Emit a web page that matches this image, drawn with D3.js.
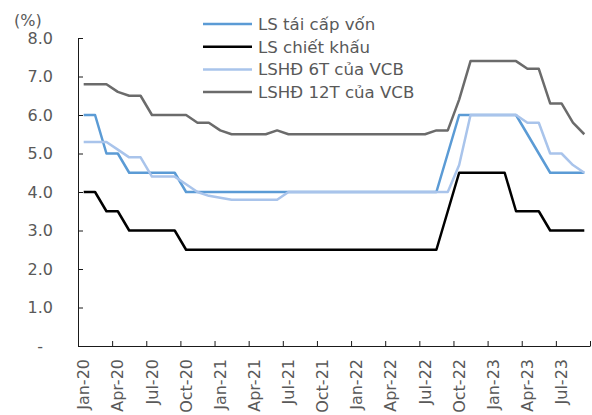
<!DOCTYPE html>
<html>
<head>
<meta charset="utf-8">
<script src="https://cdn.jsdelivr.net/npm/d3@7"></script>
<style>
  body { margin: 0; background: #fff; }
  svg { font-family: "DejaVu Sans", Verdana, sans-serif; }
</style>
</head>
<body>
<svg id="chart"></svg>
<script>
// Data (monthly, Jan-20 .. Sep-23)
const monthNames = ["Jan", "Feb", "Mar", "Apr", "May", "Jun", "Jul", "Aug", "Sep", "Oct", "Nov", "Dec"];
const months = [];
for (let y = 20; y <= 23; y++) {
    monthNames.forEach((m, i) => {
        if (y < 23 || i < 9) months.push(`${m}-${y}`);
    });
}
const tickLabels = months.filter((m, i) => i % 3 === 0);

const refinance = [6.0, 6.0, 5.0, 5.0, 4.5, 4.5, 4.5, 4.5, 4.5, 4.0, 4.0, 4.0,
                   4.0, 4.0, 4.0, 4.0, 4.0, 4.0, 4.0, 4.0, 4.0, 4.0, 4.0, 4.0,
                   4.0, 4.0, 4.0, 4.0, 4.0, 4.0, 4.0, 4.0, 5.0, 6.0, 6.0, 6.0,
                   6.0, 6.0, 6.0, 5.5, 5.0, 4.5, 4.5, 4.5, 4.5];
const discount  = [4.0, 4.0, 3.5, 3.5, 3.0, 3.0, 3.0, 3.0, 3.0, 2.5, 2.5, 2.5,
                   2.5, 2.5, 2.5, 2.5, 2.5, 2.5, 2.5, 2.5, 2.5, 2.5, 2.5, 2.5,
                   2.5, 2.5, 2.5, 2.5, 2.5, 2.5, 2.5, 2.5, 3.5, 4.5, 4.5, 4.5,
                   4.5, 4.5, 3.5, 3.5, 3.5, 3.0, 3.0, 3.0, 3.0];
const vcb6m     = [5.3, 5.3, 5.3, 5.1, 4.9, 4.9, 4.4, 4.4, 4.4, 4.2, 4.0, 3.9,
                   3.85, 3.8, 3.8, 3.8, 3.8, 3.8, 4.0, 4.0, 4.0, 4.0, 4.0, 4.0,
                   4.0, 4.0, 4.0, 4.0, 4.0, 4.0, 4.0, 4.0, 4.0, 4.7, 6.0, 6.0,
                   6.0, 6.0, 6.0, 5.8, 5.8, 5.0, 5.0, 4.7, 4.5];
const vcb12m    = [6.8, 6.8, 6.8, 6.6, 6.5, 6.5, 6.0, 6.0, 6.0, 6.0, 5.8, 5.8,
                   5.6, 5.5, 5.5, 5.5, 5.5, 5.6, 5.5, 5.5, 5.5, 5.5, 5.5, 5.5,
                   5.5, 5.5, 5.5, 5.5, 5.5, 5.5, 5.5, 5.6, 5.6, 6.4, 7.4, 7.4,
                   7.4, 7.4, 7.4, 7.2, 7.2, 6.3, 6.3, 5.8, 5.5];

const series = [
    { name: "LS tái cấp vốn",   values: refinance, color: "#5b9bd5" },
    { name: "LS chiết khấu",    values: discount,  color: "#000000" },
    { name: "LSHĐ 6T của VCB",  values: vcb6m,     color: "#a9c4eb" },
    { name: "LSHĐ 12T của VCB", values: vcb12m,    color: "#6b6b6b" }
];

// Layout
const W = 592, H = 415;
const plot = { left: 78, right: 590, top: 38, bottom: 346 };
const textColor = "#595959";

const svg = d3.select("#chart").attr("width", W).attr("height", H);

// Scales
const x = d3.scaleBand().domain(months).range([plot.left, plot.right]).padding(0);
const xc = m => x(m) + x.bandwidth() / 2;
const xIdx = d3.scaleLinear().domain([0, months.length]).range([plot.left, plot.right]);
const y = d3.scaleLinear().domain([0, 8]).range([plot.bottom, plot.top]);

// Y axis (ticks inside)
const yAxisG = svg.append("g")
    .attr("transform", `translate(${plot.left},0)`)
    .call(d3.axisLeft(y).ticks(8).tickSizeInner(-5).tickSizeOuter(0).tickPadding(25)
        .tickFormat(d => d === 0 ? "-" : d.toFixed(1)));
yAxisG.selectAll("text")
    .attr("fill", textColor).attr("font-size", "16px")
    .attr("font-family", "DejaVu Sans")
    .attr("dx", d => d === 0 ? -10 : 0);

// X axis tick marks at category boundaries
svg.append("g")
    .attr("transform", `translate(0,${plot.bottom})`)
    .call(d3.axisBottom(xIdx).tickValues(d3.range(0, months.length + 1, 3))
        .tickSizeInner(-5).tickSizeOuter(0).tickFormat(""));

// X axis labels at category centres
const xLab = svg.append("g")
    .attr("transform", `translate(0,${plot.bottom})`)
    .call(d3.axisBottom(x).tickValues(tickLabels).tickSize(0));
xLab.select(".domain").remove();
xLab.selectAll("text")
    .attr("transform", "rotate(-90)")
    .attr("text-anchor", "end")
    .attr("x", -13).attr("y", 0).attr("dy", "0.35em")
    .attr("fill", textColor).attr("font-size", "16px")
    .attr("font-family", "DejaVu Sans");

svg.selectAll(".domain, .tick line").attr("stroke", "#1a1a1a");

// Unit label
svg.append("text")
    .attr("x", 14).attr("y", 26)
    .attr("fill", textColor).attr("font-size", "16px")
    .text("(%)");

// Lines
const line = d3.line()
    .x((d, i) => xc(months[i]))
    .y(d => y(d));

svg.selectAll(".series")
    .data(series)
    .enter().append("path")
    .attr("class", "series")
    .attr("d", d => line(d.values))
    .attr("fill", "none")
    .attr("stroke", d => d.color)
    .attr("stroke-width", 2.5)
    .attr("stroke-linejoin", "round");

// Legend
const legend = svg.append("g").attr("transform", "translate(203,24)");
const items = legend.selectAll("g")
    .data(series)
    .enter().append("g")
    .attr("transform", (d, i) => `translate(0,${i * 22.7})`);
items.append("line")
    .attr("x1", 0).attr("x2", 49)
    .attr("stroke", d => d.color)
    .attr("stroke-width", 2.5);
items.append("text")
    .attr("x", 55).attr("dy", "0.35em")
    .attr("fill", textColor).attr("font-size", "16.6px")
    .text(d => d.name);
</script>
</body>
</html>
